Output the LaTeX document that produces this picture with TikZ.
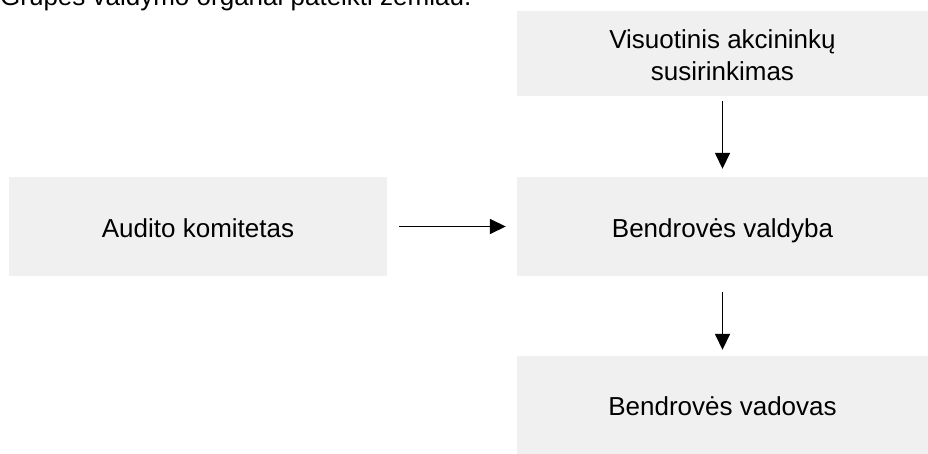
\documentclass[tikz,border=0pt]{standalone}
\usepackage{fontspec}
\setmainfont{Liberation Sans}
\usetikzlibrary{arrows.meta}
\definecolor{boxfill}{RGB}{240,240,240}
\tikzset{
  orgbox/.style={fill=boxfill, draw=none, inner sep=0pt,
    font=\fontsize{26}{31}\selectfont},
  oneline/.style={orgbox, text height=21.5pt, text depth=0pt},
  link/.style={-{Triangle[length=16pt,width=15pt]}, line width=1.6pt, black}
}
\begin{document}
\begin{tikzpicture}[x=1pt,y=-1pt]
\useasboundingbox (0,0) rectangle (928,454);
\node[anchor=base west, inner sep=0pt, font=\fontsize{26}{31}\selectfont] (title) at (0,6) {Grupės valdymo organai pateikti žemiau.};
\node[orgbox, minimum width=411pt, minimum height=85pt] (gsm) at (722.5,53.5)
  {\raisebox{-4.5pt}[\height][\depth]{\begin{tabular}{@{}c@{}}Visuotinis akcininkų\\[1pt]susirinkimas\end{tabular}}};
\node[oneline, minimum width=411pt, minimum height=99pt] (board) at (722.5,226.5) {Bendrovės valdyba};
\node[oneline, minimum width=378pt, minimum height=99pt] (audit) at (198,226.5) {Audito komitetas};
\node[oneline, minimum width=411pt, minimum height=98pt] (ceo) at (722.5,405) {Bendrovės vadovas};
\draw[link, shorten <=5pt, shorten >=8pt] (gsm.south) -- (board.north);
\draw[link, shorten <=12pt, shorten >=11pt] (audit.east) -- (board.west);
\draw[link, shorten <=16pt, shorten >=6pt] (board.south) -- (ceo.north);
\end{tikzpicture}
\end{document}
